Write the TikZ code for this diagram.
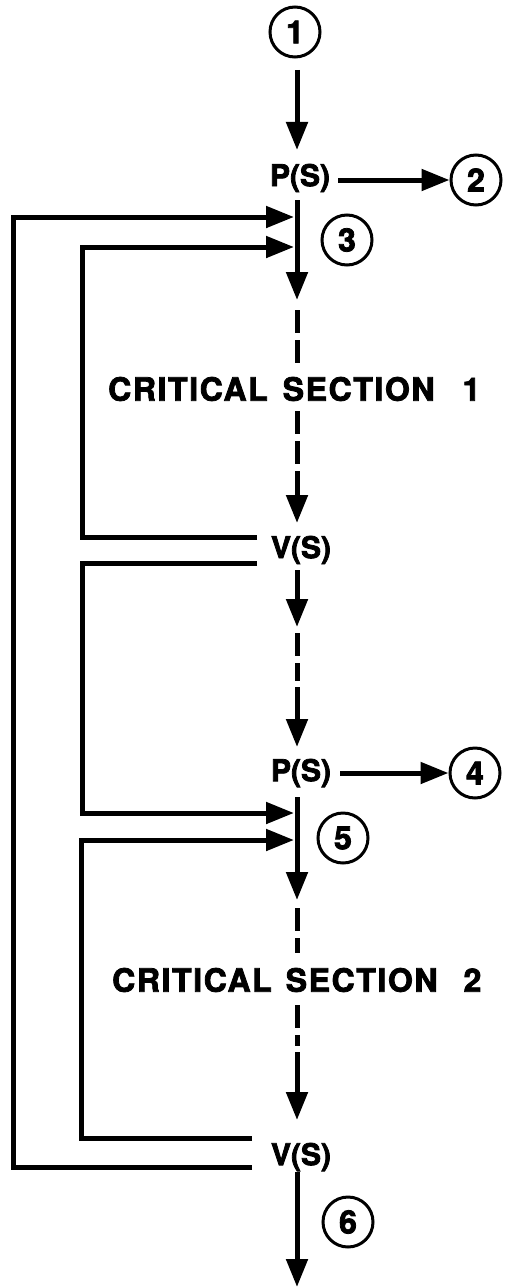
\documentclass[tikz,border=0pt]{standalone}
\usepackage{fontspec}
\setmainfont{TeX Gyre Heros}[BoldFeatures={FakeBold=2.5}]
\newfontfamily\csfont{TeX Gyre Heros}[LetterSpace=5,BoldFeatures={FakeBold=2.5,LetterSpace=5}]
\usetikzlibrary{arrows.meta}
\begin{document}
\begin{tikzpicture}[x=1pt,y=-1pt,
  flow/.style={line width=5pt},
  arr/.style={flow,-{Triangle[length=28pt,width=21pt]}},
  dsh/.style={flow,dash pattern=on 23pt off 7pt},
  lab/.style={font=\fontsize{30}{32}\selectfont\bfseries, inner sep=0pt},
  big/.style={font=\csfont\fontsize{32}{34}\selectfont\bfseries, inner sep=0pt},
  num/.style={circle,draw,line width=3pt,minimum size=50pt,inner sep=0pt,font=\fontsize{32}{34}\selectfont\bfseries},
]
\useasboundingbox (0,0) rectangle (506,1287);

% nodes
\node[num] (c1) at (295,32) {1};
\node[lab] (ps1) at (300,178) {P(S)};
\node[num] (c2) at (476,180) {2};
\node[num] (c3) at (347,240) {3};
\node[big,anchor=west] (cs1) at (108,389) {CRITICAL\hspace{15pt}SECTION\hspace{28pt}1};
\node[lab] (vs1) at (301,550) {V(S)};
\node[lab] (ps2) at (301,773) {P(S)};
\node[num] (c4) at (475,773) {4};
\node[num] (c5) at (343,838) {5};
\node[big,anchor=west] (cs2) at (112,980) {CRITICAL\hspace{14pt}SECTION\hspace{26pt}2};
\node[lab] (vs2) at (301,1157) {V(S)};
\node[num] (c6) at (348,1222) {6};

% spine coordinates
\coordinate (a0) at (297,70);   \coordinate (a1) at (297,150);
\coordinate (b0) at (297,200);  \coordinate (b1) at (297,300);
\coordinate (d0) at (297,310);  \coordinate (d1) at (297,367);
\coordinate (d2) at (297,411);  \coordinate (d3) at (297,465);
\coordinate (e0) at (297,471);  \coordinate (e1) at (297,523);
\coordinate (f0) at (297,570);  \coordinate (f1) at (297,627);
\coordinate (g0) at (297,633);  \coordinate (g1) at (297,681);
\coordinate (h0) at (297,687);  \coordinate (h1) at (297,747);
\coordinate (i0) at (297,797);  \coordinate (i1) at (297,900);
\coordinate (j0) at (297,908);  \coordinate (j1) at (297,953);
\coordinate (j2) at (297,1005); \coordinate (j3) at (297,1046);
\coordinate (k0) at (297,1052); \coordinate (k1) at (297,1120);
\coordinate (l0) at (297,1172); \coordinate (l1) at (297,1287);

% spine
\draw[arr] (a0) -- (a1);
\draw[arr] (b0) -- (b1);
\draw[dsh] (d0) -- (d1);
\draw[dsh] (d2) -- (d3);
\draw[arr] (e0) -- (e1);
\draw[arr] (f0) -- (f1);
\draw[dsh] (g0) -- (g1);
\draw[arr] (h0) -- (h1);
\draw[arr] (i0) -- (i1);
\draw[dsh] (j0) -- (j1);
\draw[dsh] (j2) -- (j3);
\draw[arr] (k0) -- (k1);
\draw[arr] (l0) -- (l1);

% side arrows to circles
\draw[arr] (338,180) -- (c2.west);
\draw[arr] (340,773) -- (c4.west);

% loops
\coordinate (t1) at (294,217);
\coordinate (t2) at (294,247);
\coordinate (t3) at (294,813);
\coordinate (t4) at (294,840);
\draw[arr,line join=miter] (252,1167) -- (13,1167) -- (13,217) -- (t1);
\draw[arr,line join=miter] (257,537) -- (82,537) -- (82,247) -- (t2);
\draw[arr,line join=miter] (257,563) -- (82,563) -- (82,813) -- (t3);
\draw[arr,line join=miter] (252,1138) -- (81,1138) -- (81,840) -- (t4);
\end{tikzpicture}
\end{document}
